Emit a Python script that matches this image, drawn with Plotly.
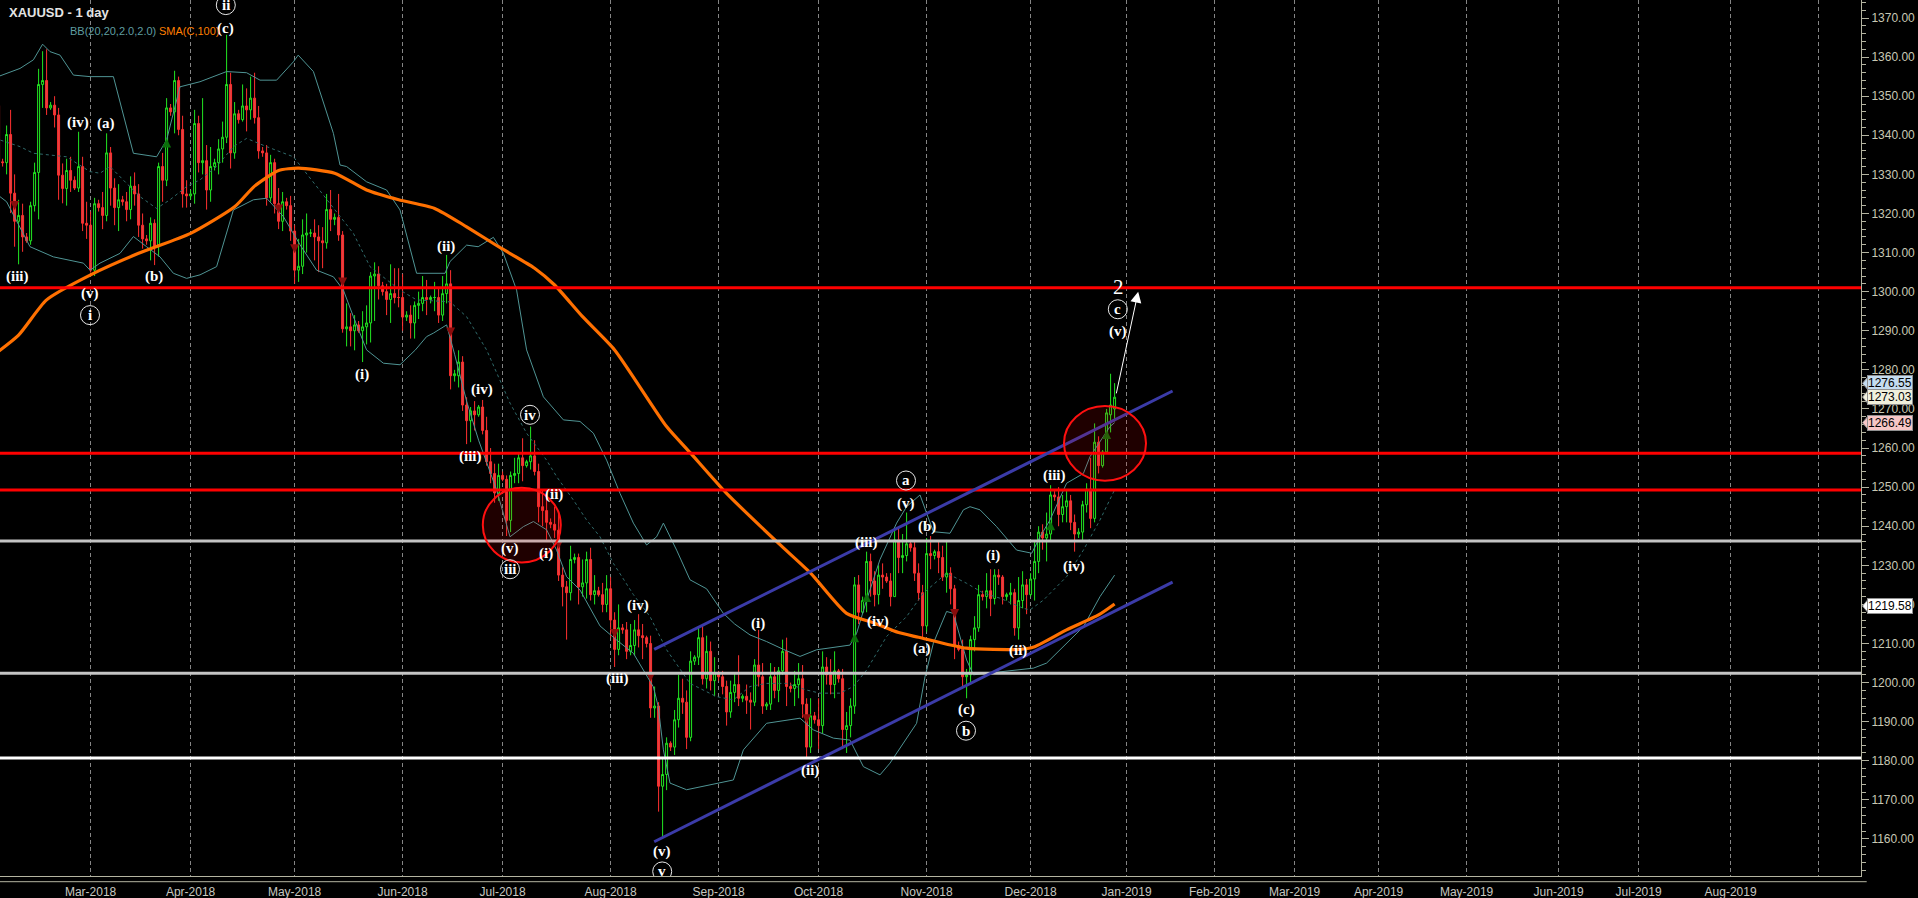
import datetime as dt
import sys
import plotly.graph_objects as go

# ------------------------------------------------------------------
# DATA
# one row per chart bar (o, h, l, c); Sunday bars included
# ------------------------------------------------------------------
FEB_2018 = [
    (1343.0, 1349.5, 1337.5, 1347.6), (1347.6, 1350.0, 1331.5, 1333.2), (1333.2, 1334.0, 1332.0, 1333.0),
    (1333.0, 1342.5, 1330.0, 1340.2), (1340.2, 1346.5, 1320.1, 1325.2), (1325.2, 1330.0, 1311.5, 1318.0),
    (1318.0, 1323.5, 1307.0, 1319.5), (1319.5, 1322.5, 1310.2, 1314.0), (1314.0, 1315.0, 1312.5, 1313.0),
    (1313.0, 1323.0, 1312.0, 1322.0), (1322.0, 1333.0, 1320.5, 1330.5), (1330.5, 1357.0, 1318.5, 1353.0),
    (1353.0, 1361.5, 1347.0, 1354.0), (1354.0, 1362.0, 1345.2, 1347.0), (1347.0, 1348.5, 1346.5, 1347.7),
    (1347.7, 1350.0, 1342.0, 1345.2), (1345.2, 1347.0, 1323.5, 1329.8), (1329.8, 1332.8, 1322.6, 1326.4),
    (1326.4, 1334.0, 1322.0, 1331.0), (1331.0, 1334.5, 1325.5, 1328.5), (1328.5, 1329.5, 1326.0, 1326.5),
    (1326.5, 1340.9, 1325.5, 1332.0), (1332.0, 1334.5, 1315.5, 1317.5), (1317.5, 1323.0, 1313.5, 1317.0),
]
MAR_2018 = [
    (1317.0, 1320.5, 1304.9, 1305.5), (1305.5, 1324.0, 1304.0, 1322.5), (1322.5, 1323.5, 1320.5, 1321.5),
    (1321.5, 1325.5, 1316.0, 1319.5), (1319.5, 1340.5, 1318.0, 1335.5), (1335.5, 1337.0, 1322.0, 1326.5),
    (1326.5, 1329.0, 1317.0, 1321.5), (1321.5, 1327.5, 1315.5, 1323.5), (1323.5, 1324.5, 1322.0, 1323.0),
    (1323.0, 1325.5, 1318.0, 1321.0), (1321.0, 1329.5, 1318.5, 1327.0), (1327.0, 1330.5, 1322.0, 1325.0),
    (1325.0, 1327.5, 1314.0, 1317.0), (1317.0, 1320.0, 1311.0, 1313.5), (1313.5, 1314.5, 1312.0, 1313.0),
    (1313.0, 1319.0, 1308.0, 1317.5), (1317.5, 1318.5, 1306.8, 1311.5), (1311.5, 1333.0, 1309.0, 1332.0),
    (1332.0, 1335.5, 1323.0, 1328.5), (1328.5, 1349.5, 1327.0, 1347.0), (1347.0, 1348.0, 1345.0, 1346.0),
    (1346.0, 1356.5, 1340.5, 1354.0), (1354.0, 1355.0, 1340.0, 1341.5), (1341.5, 1345.0, 1321.5, 1325.0),
    (1325.0, 1328.5, 1321.5, 1324.5),
]
APR_2018 = [
    (1324.5, 1326.0, 1323.5, 1325.0), (1325.0, 1346.5, 1322.5, 1343.0), (1343.0, 1345.0, 1330.5, 1333.0),
    (1333.0, 1349.5, 1330.0, 1333.5), (1333.5, 1337.5, 1321.0, 1326.0), (1326.0, 1337.0, 1323.0, 1332.0),
    (1332.0, 1334.0, 1331.0, 1333.0), (1333.0, 1339.0, 1330.0, 1336.5), (1336.5, 1343.5, 1333.0, 1339.5),
    (1339.5, 1365.7, 1338.0, 1353.0), (1353.0, 1356.0, 1331.5, 1335.5), (1335.5, 1348.5, 1334.0, 1345.5),
    (1345.5, 1346.5, 1343.0, 1344.0), (1344.0, 1353.0, 1343.5, 1347.5), (1347.5, 1352.0, 1341.0, 1346.5),
    (1346.5, 1355.0, 1344.0, 1349.5), (1349.5, 1356.0, 1343.0, 1344.5), (1344.5, 1347.5, 1334.0, 1336.0),
    (1336.0, 1337.0, 1334.5, 1335.5), (1335.5, 1337.5, 1322.0, 1324.0), (1324.0, 1335.0, 1323.0, 1333.0),
    (1333.0, 1334.0, 1320.0, 1322.5), (1322.5, 1326.5, 1316.0, 1318.0), (1318.0, 1325.5, 1315.5, 1323.0),
    (1323.0, 1324.0, 1321.0, 1322.0), (1322.0, 1324.5, 1313.0, 1315.5),
]
MAY_2018 = [
    (1315.5, 1317.0, 1302.0, 1305.5), (1305.5, 1313.5, 1302.5, 1306.5), (1306.5, 1318.5, 1304.5, 1314.5),
    (1314.5, 1320.0, 1310.0, 1315.0), (1315.0, 1316.0, 1314.0, 1315.0), (1315.0, 1318.5, 1308.0, 1314.0),
    (1314.0, 1317.0, 1305.0, 1313.0), (1313.0, 1316.5, 1306.0, 1312.5), (1312.5, 1325.0, 1311.0, 1321.0),
    (1321.0, 1326.0, 1315.5, 1318.5), (1318.5, 1320.0, 1317.0, 1319.0), (1319.0, 1325.0, 1313.0, 1314.5),
    (1314.5, 1315.5, 1289.5, 1290.5), (1290.5, 1297.0, 1286.0, 1291.0), (1291.0, 1294.5, 1286.0, 1290.0),
    (1290.0, 1294.0, 1285.0, 1291.5), (1291.5, 1292.5, 1289.5, 1290.0), (1290.0, 1295.0, 1282.0, 1291.0),
    (1291.0, 1296.5, 1286.5, 1292.0), (1292.0, 1305.0, 1287.0, 1304.0), (1304.0, 1307.5, 1292.5, 1304.5),
    (1304.5, 1306.5, 1298.0, 1301.5), (1301.5, 1302.5, 1299.0, 1300.0), (1300.0, 1302.0, 1294.0, 1298.0),
    (1298.0, 1307.0, 1292.0, 1299.5), (1299.5, 1306.0, 1297.0, 1298.5), (1298.5, 1306.0, 1296.0, 1298.5),
]
JUN_2018 = [
    (1298.5, 1304.5, 1290.0, 1293.5), (1293.5, 1295.0, 1292.5, 1294.0), (1294.0, 1296.5, 1288.0, 1292.0),
    (1292.0, 1297.5, 1288.0, 1296.5), (1296.5, 1300.0, 1293.0, 1297.0), (1297.0, 1304.0, 1295.0, 1298.5),
    (1298.5, 1303.0, 1294.0, 1298.0), (1298.0, 1299.0, 1297.0, 1298.5), (1298.5, 1302.5, 1295.0, 1298.5),
    (1298.5, 1301.0, 1292.0, 1294.0), (1294.0, 1304.0, 1292.5, 1299.5), (1299.5, 1309.4, 1297.0, 1302.0),
    (1302.0, 1305.5, 1275.0, 1278.5), (1278.5, 1280.0, 1277.0, 1279.0), (1278.5, 1285.0, 1275.5, 1282.0),
    (1282.0, 1283.5, 1269.5, 1271.0), (1271.0, 1273.0, 1261.0, 1267.0), (1267.0, 1270.5, 1261.5, 1269.5),
    (1269.5, 1272.0, 1264.5, 1268.5), (1268.5, 1271.0, 1268.0, 1270.5), (1270.5, 1272.3, 1263.5, 1264.5),
    (1264.5, 1268.0, 1255.5, 1256.5), (1256.5, 1260.0, 1251.0, 1253.5), (1253.5, 1256.0, 1246.0, 1248.5),
    (1248.5, 1256.0, 1246.5, 1253.0),
]
JUL_2018 = [
    (1253.0, 1254.0, 1251.5, 1252.0), (1252.0, 1253.0, 1237.5, 1241.5), (1241.5, 1254.0, 1238.5, 1253.0),
    (1253.0, 1257.5, 1251.0, 1253.5), (1253.5, 1259.0, 1251.0, 1257.5), (1257.5, 1262.5, 1251.5, 1255.5),
    (1255.5, 1257.0, 1255.0, 1256.5), (1256.5, 1265.5, 1254.5, 1258.0), (1258.0, 1262.0, 1253.0, 1254.0),
    (1254.0, 1256.0, 1241.0, 1245.0), (1245.0, 1249.5, 1240.0, 1244.0), (1244.0, 1248.0, 1236.5, 1241.0),
    (1241.0, 1242.0, 1239.5, 1240.5), (1240.5, 1245.0, 1237.0, 1239.0), (1239.0, 1244.0, 1226.0, 1227.5),
    (1227.5, 1229.5, 1219.5, 1224.5), (1224.5, 1226.0, 1211.0, 1223.0), (1223.0, 1235.0, 1221.0, 1231.5),
    (1231.5, 1233.0, 1230.5, 1232.0), (1232.0, 1233.0, 1220.0, 1224.5), (1224.5, 1231.5, 1222.0, 1225.5),
    (1225.5, 1233.5, 1221.5, 1231.5), (1231.5, 1234.5, 1221.0, 1222.5), (1222.5, 1227.5, 1220.0, 1223.5),
    (1223.5, 1224.5, 1222.0, 1222.5), (1222.5, 1225.5, 1218.0, 1220.0), (1220.0, 1227.5, 1218.0, 1224.0),
]
AUG_2018 = [
    (1224.0, 1227.0, 1211.5, 1216.0), (1216.0, 1218.0, 1204.0, 1208.5), (1208.5, 1220.0, 1207.0, 1214.0),
    (1214.0, 1215.0, 1212.5, 1213.5), (1213.5, 1215.5, 1206.0, 1208.0), (1208.0, 1215.0, 1207.0, 1209.5),
    (1209.5, 1216.0, 1207.0, 1213.5), (1213.5, 1217.5, 1209.0, 1212.0), (1212.0, 1215.0, 1206.0, 1211.5),
    (1211.5, 1212.0, 1209.0, 1210.0), (1210.0, 1212.0, 1191.0, 1193.5), (1193.5, 1199.0, 1191.0, 1194.0),
    (1194.0, 1195.0, 1167.0, 1173.5), (1173.5, 1181.0, 1160.5, 1176.5), (1176.5, 1186.0, 1172.5, 1184.5),
    (1184.5, 1185.0, 1182.5, 1183.5), (1183.5, 1193.0, 1181.5, 1190.5), (1190.5, 1202.0, 1188.5, 1196.0),
    (1196.0, 1201.0, 1192.0, 1195.0), (1195.0, 1198.0, 1183.0, 1186.0), (1186.0, 1208.0, 1185.0, 1205.5),
    (1205.5, 1207.0, 1204.5, 1206.5), (1206.5, 1214.0, 1204.5, 1211.5), (1211.5, 1214.5, 1199.5, 1201.0),
    (1201.0, 1212.0, 1198.5, 1208.0), (1208.0, 1210.5, 1198.0, 1200.5), (1200.5, 1206.5, 1196.5, 1202.5),
]
SEP_2018 = [
    (1202.5, 1203.0, 1200.5, 1201.5), (1201.5, 1203.0, 1197.0, 1199.0), (1199.0, 1200.5, 1189.0, 1192.5),
    (1192.5, 1200.5, 1191.0, 1197.5), (1197.5, 1202.5, 1195.0, 1199.5), (1199.5, 1207.0, 1194.0, 1196.0),
    (1196.0, 1197.0, 1195.0, 1196.5), (1196.5, 1199.5, 1192.0, 1195.5), (1195.5, 1197.5, 1188.0, 1195.0),
    (1195.0, 1206.0, 1194.0, 1204.5), (1204.5, 1213.5, 1199.0, 1201.5), (1201.5, 1205.0, 1192.0, 1194.0),
    (1194.0, 1195.0, 1193.0, 1194.5), (1194.5, 1205.0, 1193.0, 1201.5), (1201.5, 1204.0, 1196.0, 1198.0),
    (1198.0, 1204.0, 1195.0, 1203.0), (1203.0, 1211.0, 1202.0, 1208.0), (1208.0, 1211.5, 1194.0, 1199.0),
    (1199.0, 1200.0, 1197.5, 1198.5), (1198.5, 1203.0, 1194.0, 1199.5), (1199.5, 1205.0, 1196.0, 1201.0),
    (1201.0, 1204.5, 1191.0, 1194.5), (1194.5, 1196.0, 1180.5, 1183.5), (1183.5, 1196.0, 1182.0, 1191.5),
    (1191.5, 1192.5, 1189.5, 1190.5),
]
OCT_2018 = [
    (1190.5, 1196.0, 1183.0, 1189.0), (1189.0, 1208.0, 1187.0, 1204.0), (1204.0, 1206.5, 1199.5, 1202.0),
    (1202.0, 1206.0, 1197.0, 1199.5), (1199.5, 1208.0, 1196.0, 1203.0), (1203.0, 1203.5, 1200.0, 1201.0),
    (1201.0, 1203.5, 1183.0, 1188.0), (1188.0, 1192.5, 1182.0, 1189.0), (1189.0, 1196.0, 1186.0, 1194.0),
    (1194.0, 1227.0, 1192.0, 1225.0), (1225.0, 1227.5, 1215.0, 1218.0), (1218.0, 1222.0, 1217.5, 1221.0),
    (1221.0, 1233.5, 1218.0, 1231.0), (1231.0, 1233.0, 1222.0, 1226.0), (1226.0, 1228.5, 1219.5, 1222.5),
    (1222.5, 1230.0, 1220.0, 1227.5), (1227.5, 1230.5, 1224.0, 1227.0), (1227.0, 1228.0, 1225.5, 1226.0),
    (1226.0, 1228.0, 1219.5, 1222.0), (1222.0, 1239.0, 1222.0, 1236.5), (1236.5, 1239.5, 1228.0, 1232.0),
    (1232.0, 1238.0, 1228.0, 1232.5), (1232.5, 1243.5, 1231.0, 1235.5), (1235.5, 1236.5, 1233.5, 1234.5),
    (1234.5, 1236.0, 1226.0, 1228.0), (1228.0, 1230.5, 1221.0, 1223.0), (1223.0, 1225.0, 1211.5, 1214.5),
]
NOV_2018 = [
    (1214.5, 1237.0, 1213.0, 1233.0), (1233.0, 1237.5, 1229.0, 1232.5), (1232.5, 1234.0, 1231.5, 1233.5),
    (1233.5, 1236.0, 1228.0, 1232.0), (1232.0, 1235.0, 1226.0, 1227.0), (1227.0, 1236.5, 1223.0, 1228.0),
    (1228.0, 1229.5, 1220.0, 1224.0), (1224.0, 1225.0, 1206.0, 1209.5), (1209.5, 1210.5, 1208.0, 1208.5),
    (1208.5, 1211.0, 1199.0, 1201.5), (1201.5, 1203.5, 1196.0, 1202.0), (1202.0, 1212.0, 1199.5, 1211.0),
    (1211.0, 1217.0, 1208.0, 1214.0), (1214.0, 1225.0, 1213.0, 1222.5), (1222.5, 1223.5, 1221.0, 1222.0),
    (1222.0, 1228.0, 1219.0, 1223.5), (1223.5, 1229.0, 1217.0, 1221.5), (1221.5, 1229.0, 1220.0, 1227.5),
    (1227.5, 1229.0, 1225.0, 1227.0), (1227.0, 1227.5, 1220.0, 1222.0), (1222.0, 1223.0, 1221.0, 1222.5),
    (1222.5, 1225.5, 1220.0, 1223.0), (1223.0, 1224.0, 1212.0, 1214.0), (1214.0, 1227.0, 1211.0, 1221.0),
    (1221.0, 1228.5, 1219.0, 1225.0), (1225.0, 1226.5, 1217.5, 1222.5),
]
DEC_2018 = [
    (1222.5, 1228.0, 1222.0, 1226.5), (1226.5, 1236.0, 1221.0, 1231.0), (1231.0, 1240.0, 1228.0, 1238.5),
    (1238.5, 1240.5, 1234.0, 1237.0), (1237.0, 1243.5, 1231.0, 1238.0), (1238.0, 1250.5, 1236.0, 1248.0),
    (1248.0, 1249.0, 1246.5, 1247.5), (1247.5, 1250.0, 1240.0, 1243.0), (1243.0, 1248.0, 1241.0, 1245.0),
    (1245.0, 1249.0, 1241.0, 1246.5), (1246.5, 1248.0, 1239.0, 1241.0), (1241.0, 1243.0, 1233.5, 1238.0),
    (1238.0, 1239.5, 1237.0, 1238.5), (1238.5, 1246.5, 1236.5, 1245.5), (1245.5, 1251.0, 1243.5, 1249.5),
    (1249.5, 1257.5, 1239.5, 1242.0), (1242.0, 1266.3, 1241.0, 1261.5), (1261.5, 1263.0, 1253.5, 1255.5),
    (1255.5, 1259.5, 1255.0, 1259.0), (1259.0, 1270.0, 1258.5, 1269.0), (1268.5, 1279.0, 1264.0, 1271.0),
    (1270.0, 1276.6, 1266.8, 1273.0),
]

# indicator curves (bar number, price)
SMA_BAR = [0, 6, 13, 24, 36, 49, 60, 65, 71, 76, 85, 93, 101, 110, 118, 126, 135, 140, 147, 155,
           168, 174, 183, 196, 204, 213, 220, 226, 231, 243, 256, 260, 268, 276, 280]
SMA_VAL = [1284.0, 1288.9, 1297.9, 1304.3, 1309.8, 1314.9, 1321.7, 1327.0, 1331.0, 1331.6, 1330.3,
           1326.0, 1323.5, 1321.3, 1316.6, 1311.5, 1306.0, 1301.7, 1293.6, 1285.1, 1265.5, 1258.7,
           1248.4, 1235.6, 1228.0, 1217.7, 1215.2, 1212.8, 1211.6, 1208.8, 1208.5, 1209.2, 1213.5,
           1217.3, 1220.1]

BB_UP_BAR = [0, 1.35, 6.35, 9.7, 12.0, 13.85, 16.35, 19.7, 23.85, 29.7, 34.7, 40.5, 43.0, 46.35, 51.35,
             58.0, 63.0, 66.35, 70.5, 74.7, 75.9, 79.7, 84.7, 86.35, 88.0, 93.0, 98.0, 101.35, 105.5,
             112.6, 113.85, 118.0, 120.9, 124.7, 127.2, 130.5, 133.0, 137.2, 142.2, 146.35, 149.7,
             153.0, 156.35, 159.7, 163.0, 165.5, 167.2, 170.5, 173.85, 178.0, 182.2, 185.0, 188.85,
             193.0, 197.2, 201.35, 205.5, 213.85, 215.5, 218.0, 221.35, 225.5, 228.0, 231.35, 234.7,
             238.85, 242.2, 243.85, 246.35, 250.5, 255.5, 259.3, 261.35, 263.85, 268.0, 272.2, 273.85,
             278.85, 280.0]
BB_UP_VAL = [1355.0, 1355.2, 1357.1, 1359.3, 1363.3, 1361.4, 1360.5, 1355.4, 1355.0, 1355.0, 1335.4,
             1334.5, 1338.8, 1352.4, 1353.7, 1356.3, 1356.0, 1354.1, 1354.1, 1358.8, 1360.5, 1356.3,
             1340.5, 1332.4, 1332.0, 1328.1, 1326.0, 1320.9, 1304.7, 1304.7, 1307.7, 1311.9, 1311.5,
             1313.9, 1309.8, 1300.4, 1285.1, 1273.1, 1267.2, 1266.8, 1263.8, 1256.9, 1248.4, 1240.8,
             1235.2, 1237.3, 1240.8, 1233.9, 1226.3, 1224.0, 1217.7, 1215.0, 1212.2, 1210.5, 1208.5,
             1206.7, 1208.4, 1209.6, 1212.6, 1221.1, 1231.5, 1240.8, 1245.0, 1248.0, 1238.6, 1238.2,
             1244.2, 1245.0, 1244.2, 1239.9, 1233.9, 1233.1, 1237.3, 1241.6, 1251.0, 1253.5, 1257.8,
             1265.5, 1266.5]

BB_MID_BAR = [0, 1.35, 6.35, 9.7, 18.0, 23.85, 26.35, 28.85, 33.0, 36.35, 40.5, 43.85, 48.0, 51.35,
              55.5, 59.7, 63.0, 68.0, 74.7, 80.5, 84.7, 89.7, 93.85, 98.0, 101.35, 105.5, 113.85, 118.0,
              123.0, 128.85, 133.0, 138.0, 140.5, 144.7, 148.0, 151.35, 154.7, 159.7, 163.85, 168.0,
              173.85, 180.5, 184.7, 188.85, 193.0, 198.0, 203.0, 206.35, 211.35, 214.7, 218.0, 223.0,
              228.0, 232.2, 238.0, 243.0, 247.2, 251.35, 257.2, 258.85, 262.2, 268.0, 272.2, 276.35,
              280.0]
BB_MID_VAL = [1339.0, 1338.8, 1337.1, 1335.4, 1334.5, 1330.7, 1330.3, 1332.0, 1327.7, 1324.3, 1321.3,
              1323.5, 1326.9, 1328.6, 1332.0, 1337.1, 1339.2, 1337.1, 1334.5, 1326.9, 1321.7, 1314.9,
              1306.4, 1303.0, 1300.4, 1297.9, 1297.4, 1293.6, 1285.1, 1271.5, 1263.8, 1256.9, 1252.7,
              1246.7, 1241.6, 1237.3, 1230.5, 1222.5, 1216.9, 1208.4, 1199.8, 1196.4, 1195.6, 1199.0,
              1199.8, 1199.8, 1198.1, 1197.3, 1197.3, 1199.0, 1203.2, 1211.8, 1216.9, 1222.9, 1228.0,
              1225.4, 1222.9, 1221.6, 1219.0, 1218.6, 1221.1, 1227.1, 1233.9, 1241.6, 1249.3]

BB_LOW_BAR = [0, 1.35, 3.0, 6.35, 8.85, 14.7, 22.2, 23.85, 26.35, 31.35, 34.7, 38.0, 41.35, 44.7, 48.0,
              51.35, 55.5, 59.7, 64.7, 68.0, 72.2, 76.35, 80.5, 84.7, 87.2, 89.7, 93.0, 97.2, 101.35,
              105.2, 108.0, 109.7, 113.0, 115.0, 118.0, 121.0, 125.5, 128.85, 132.2, 134.7, 138.0,
              140.5, 143.0, 146.35, 151.35, 155.5, 159.7, 164.7, 165.9, 167.2, 168.85, 173.0, 184.7,
              187.2, 193.0, 201.35, 204.7, 209.7, 213.85, 217.2, 221.35, 223.85, 230.5, 232.6, 234.7,
              238.0, 239.7, 243.0, 244.7, 259.7, 263.0, 272.2, 276.35, 280.0]
BB_LOW_VAL = [1325.0, 1324.3, 1323.0, 1316.6, 1311.5, 1308.9, 1307.3, 1305.5, 1307.3, 1309.8, 1314.1,
              1311.5, 1308.9, 1304.7, 1303.4, 1304.3, 1306.4, 1320.9, 1323.5, 1323.9, 1319.2, 1312.0,
              1305.5, 1303.8, 1300.4, 1293.6, 1285.1, 1281.7, 1281.3, 1285.1, 1288.5, 1289.4, 1291.5,
              1284.0, 1272.0, 1262.0, 1249.3, 1237.3, 1239.9, 1241.2, 1239.1, 1233.9, 1227.1, 1223.7,
              1214.5, 1210.9, 1207.5, 1198.9, 1193.9, 1182.8, 1174.3, 1172.6, 1175.1, 1182.8, 1189.6,
              1190.9, 1187.9, 1185.8, 1185.3, 1178.5, 1176.4, 1179.4, 1189.6, 1201.5, 1210.1, 1218.2,
              1217.7, 1205.8, 1202.0, 1203.7, 1205.0, 1214.3, 1222.0, 1227.5]

# signal arrows (bar number, price)
SIG_UP_BAR = [43, 215, 218, 264, 278]
SIG_UP_VAL = [1339.2, 1212.6, 1222.9, 1241.3, 1264.6]
SIG_DN_BAR = [5, 71, 75, 87, 114, 141, 155, 164, 203, 240]
SIG_DN_VAL = [1320.9, 1320.0, 1309.8, 1301.3, 1288.5, 1234.2, 1211.4, 1200.3, 1189.6, 1216.5]

# horizontal levels
LEVEL_PRICES = [1301.0, 1258.7, 1249.3, 1236.2, 1202.4, 1180.7]
LEVEL_KINDS = ["red", "red", "red", "grey", "grey", "white"]

# channel (bar, price) start/end
CHANNEL_UPPER = [(164.9, 1208.5), (294.5, 1274.6)]
CHANNEL_LOWER = [(164.9, 1159.3), (294.5, 1225.7)]

# highlight ellipses: centre bar, centre price, radius in bars, radius in price
HIGHLIGHTS = [(131.8, 1240.3, 9.75, 9.55), (277.6, 1261.2, 10.25, 9.55)]

# projection arrow: tail and head (bar, price)
PROJ_TAIL = (280.35, 1273.6)
PROJ_HEAD = (285.9, 1300.0)

# Elliott wave labels: bar, price, text, circled
WAVE_LABELS = [
    (5.7, 1303.8, "(iii)", False), (20.9, 1343.2, "(iv)", False), (27.85, 1342.9, "(a)", False),
    (23.85, 1299.6, "(v)", False), (23.85, 1294.0, "i", True), (39.85, 1303.8, "(b)", False),
    (57.8, 1367.4, "(c)", False), (57.8, 1373.3, "ii", True), (91.8, 1278.9, "(i)", False),
    (112.8, 1311.5, "(ii)", False), (121.8, 1274.9, "(iv)", False), (133.85, 1268.5, "iv", True),
    (118.85, 1257.8, "(iii)", False), (139.85, 1248.0, "(ii)", False), (128.85, 1234.4, "(v)", False),
    (128.85, 1229.0, "iii", True), (137.8, 1233.1, "(i)", False), (160.9, 1219.6, "(iv)", False),
    (155.7, 1201.1, "(iii)", False), (166.9, 1156.8, "(v)", False), (166.9, 1151.7, "v", True),
    (190.85, 1215.0, "(i)", False), (203.85, 1177.5, "(ii)", False), (217.85, 1235.8, "(iii)", False),
    (220.85, 1215.6, "(iv)", False), (227.85, 1251.7, "a", True), (227.85, 1245.9, "(v)", False),
    (233.0, 1239.9, "(b)", False), (231.8, 1208.8, "(a)", False), (242.85, 1193.2, "(c)", False),
    (242.85, 1187.7, "b", True), (249.7, 1232.4, "(i)", False), (255.8, 1208.1, "(ii)", False),
    (264.85, 1253.1, "(iii)", False), (269.85, 1229.8, "(iv)", False), (280.8, 1295.5, "c", True),
    (280.9, 1289.8, "(v)", False),
]
BIG_LABEL = (280.9, 1301.3, "2")

# price tags on the right scale
TAG_PRICES = [1276.55, 1273.03, 1266.49, 1219.58]
TAG_KINDS = ["blue", "ivory", "pink", "white"]

# calendar
PAST_START = dt.date(2018, 2, 1)
PAST_END = dt.date(2018, 12, 27)
FUTURE_END = dt.date(2019, 9, 30)
HOLIDAYS = {dt.date(2018, 3, 30), dt.date(2018, 12, 25), dt.date(2019, 1, 1)}

# ------------------------------------------------------------------
# STYLE / LAYOUT
# ------------------------------------------------------------------
FIG_W, FIG_H = 1918, 898
M_L, M_R, M_T, M_B = 0, 57, 0, 22
PLOT_W = FIG_W - M_L - M_R
PLOT_H = FIG_H - M_T - M_B
PX_PER_BAR = 4.0
X_LEFT = 1.35
X_RIGHT = X_LEFT + PLOT_W / PX_PER_BAR
PX_PER_PRICE = 3.9095
Y_HI = 1370.0 + 18.0 / PX_PER_PRICE
Y_LO = Y_HI - PLOT_H / PX_PER_PRICE

LEVEL_COLORS = {"red": "#ff0000", "grey": "#c4c4c4", "white": "#ffffff"}
TAG_COLORS = {"blue": "#c4dcf0", "ivory": "#f0f0dc", "pink": "#f6c6c6", "white": "#ffffff"}
AXIS_COL = "#b4b4a0"
TICK_FONT_Y = dict(family="Liberation Sans, Arial, sans-serif", size=12, color="#c8c8b4")
TICK_FONT_X = dict(family="Liberation Sans, Arial, sans-serif", size=12, color="#c8c8c0")
WAVE_FONT = dict(family="Liberation Serif, Times New Roman, serif", size=15, color="#ffffff")


def build_slots():
    slots = []
    d = PAST_START
    while d <= PAST_END:
        if d.weekday() != 5 and d not in HOLIDAYS:
            slots.append(d)
        d += dt.timedelta(days=1)
    n_past = len(slots)
    d = PAST_END + dt.timedelta(days=1)
    while d <= FUTURE_END:
        if d.weekday() < 5 and d not in HOLIDAYS:
            slots.append(d)
        d += dt.timedelta(days=1)
    return slots, n_past


ROWS = (FEB_2018 + MAR_2018 + APR_2018 + MAY_2018 + JUN_2018 + JUL_2018 + AUG_2018 +
        SEP_2018 + OCT_2018 + NOV_2018 + DEC_2018)
slots, n_past = build_slots()
if len(ROWS) != n_past:
    print("row/slot mismatch", len(ROWS), n_past, file=sys.stderr)
n = min(len(ROWS), n_past)
bars = list(range(n))
opens = [r[0] for r in ROWS[:n]]
highs = [r[1] for r in ROWS[:n]]
lows = [r[2] for r in ROWS[:n]]
closes = [r[3] for r in ROWS[:n]]

tickvals, ticktext = [], []
for i in range(1, len(slots)):
    if slots[i].month != slots[i - 1].month:
        tickvals.append(i)
        ticktext.append(slots[i].strftime("%b-%Y") if i < X_RIGHT - 12 else "")

fig = go.Figure()

fig.add_trace(go.Candlestick(
    x=bars, open=opens, high=highs, low=lows, close=closes,
    increasing=dict(line=dict(color="#22e622", width=1), fillcolor="#000000"),
    decreasing=dict(line=dict(color="#ff3030", width=1), fillcolor="#e04545"),
    whiskerwidth=0, hoverinfo="skip", showlegend=False,
))

band_col = "#4f9494"
fig.add_trace(go.Scatter(x=BB_UP_BAR, y=BB_UP_VAL, mode="lines",
                         line=dict(color=band_col, width=1), hoverinfo="skip"))
fig.add_trace(go.Scatter(x=BB_LOW_BAR, y=BB_LOW_VAL, mode="lines",
                         line=dict(color=band_col, width=1), hoverinfo="skip"))
fig.add_trace(go.Scatter(x=BB_MID_BAR, y=BB_MID_VAL, mode="lines",
                         line=dict(color="#2f6a6a", width=1, dash="3px,3px"), hoverinfo="skip"))
fig.add_trace(go.Scatter(x=SMA_BAR, y=SMA_VAL, mode="lines",
                         line=dict(color="#ff7000", width=3.2, shape="spline", smoothing=0.6),
                         hoverinfo="skip"))
fig.add_trace(go.Scatter(x=SIG_UP_BAR, y=SIG_UP_VAL, mode="markers",
                         marker=dict(symbol="arrow-up", size=9, color="#0a6e0a"), hoverinfo="skip"))
fig.add_trace(go.Scatter(x=SIG_DN_BAR, y=SIG_DN_VAL, mode="markers",
                         marker=dict(symbol="arrow-down", size=9, color="#8a0c0c"), hoverinfo="skip"))

shapes = []
for p, k in zip(LEVEL_PRICES, LEVEL_KINDS):
    shapes.append(dict(type="line", xref="paper", yref="y", x0=0, x1=1, y0=p, y1=p,
                       line=dict(color=LEVEL_COLORS[k], width=3)))
for (xa, ya), (xb, yb) in (CHANNEL_UPPER, CHANNEL_LOWER):
    shapes.append(dict(type="line", xref="x", yref="y", x0=xa, y0=ya, x1=xb, y1=yb,
                       line=dict(color="#3b3ba8", width=3)))
for cx, cy, rx, ry in HIGHLIGHTS:
    shapes.append(dict(type="circle", xref="x", yref="y", x0=cx - rx, x1=cx + rx,
                       y0=cy - ry, y1=cy + ry, fillcolor="rgba(255,0,0,0.12)",
                       line=dict(color="#ff1010", width=2)))
for bx, py, txt, circ in WAVE_LABELS:
    if circ:
        shapes.append(dict(type="circle", xref="x", yref="y", xsizemode="pixel", ysizemode="pixel",
                           xanchor=bx, yanchor=py, x0=-9.5, x1=9.5, y0=-9.5, y1=9.5,
                           line=dict(color="#e8e8e8", width=1)))
# price tag pointers
px = 1.0 / PLOT_W
for p, k in zip(TAG_PRICES, TAG_KINDS):
    h = 6.0 / PX_PER_PRICE
    shapes.append(dict(type="path", xref="paper", yref="y",
                       path=f"M {1 + 1.5 * px},{p} L {1 + 6.5 * px},{p + h} L {1 + 6.5 * px},{p - h} Z",
                       fillcolor=TAG_COLORS[k], line=dict(color="#909090", width=1)))
# outer frame line below the axis
shapes.append(dict(type="line", xref="paper", yref="paper", x0=0, x1=1 + 5.7 * px,
                   y0=-5.7 / PLOT_H, y1=-5.7 / PLOT_H, line=dict(color=AXIS_COL, width=1)))

annotations = []
for bx, py, txt, circ in WAVE_LABELS:
    annotations.append(dict(x=bx, y=py, xref="x", yref="y", text=f"<b>{txt}</b>", showarrow=False,
                            font=WAVE_FONT, xanchor="center", yanchor="middle"))
annotations.append(dict(x=BIG_LABEL[0], y=BIG_LABEL[1], xref="x", yref="y", text=BIG_LABEL[2],
                        showarrow=False, xanchor="center", yanchor="middle",
                        font=dict(family="Liberation Serif, serif", size=21, color="#ffffff")))
annotations.append(dict(x=PROJ_HEAD[0], y=PROJ_HEAD[1], ax=PROJ_TAIL[0], ay=PROJ_TAIL[1],
                        xref="x", yref="y", axref="x", ayref="y", text="", showarrow=True,
                        arrowhead=2, arrowsize=2.2, arrowwidth=1, arrowcolor="#ffffff"))
for p, k in zip(TAG_PRICES, TAG_KINDS):
    annotations.append(dict(x=1, xref="paper", y=p, yref="y", xanchor="left", yanchor="middle",
                            xshift=6, text=f"{p:.2f}", showarrow=False, bgcolor=TAG_COLORS[k],
                            bordercolor="#909090", borderwidth=1, borderpad=0,
                            font=dict(family="Liberation Sans, Arial, sans-serif", size=12,
                                      color="#000000")))
annotations.append(dict(x=7 / PLOT_W, y=1 - 12 / PLOT_H, xref="paper", yref="paper",
                        xanchor="left", yanchor="middle", showarrow=False,
                        text="<b>XAUUSD - 1 day</b>",
                        font=dict(family="Liberation Sans, Arial, sans-serif", size=13,
                                  color="#e4e4e4")))
annotations.append(dict(x=68 / PLOT_W, y=1 - 30.5 / PLOT_H, xref="paper", yref="paper",
                        xanchor="left", yanchor="middle", showarrow=False,
                        text="BB(20,20,2.0,2.0)",
                        font=dict(family="Liberation Sans, Arial, sans-serif", size=11,
                                  color="#5f9ea0")))
annotations.append(dict(x=157 / PLOT_W, y=1 - 30.5 / PLOT_H, xref="paper", yref="paper",
                        xanchor="left", yanchor="middle", showarrow=False,
                        text="SMA(C,100)",
                        font=dict(family="Liberation Sans, Arial, sans-serif", size=11,
                                  color="#ff7f00")))

fig.update_layout(
    width=FIG_W, height=FIG_H,
    margin=dict(l=M_L, r=M_R, t=M_T, b=M_B, pad=0),
    paper_bgcolor="#000000", plot_bgcolor="#000000",
    showlegend=False, hovermode=False,
    shapes=shapes, annotations=annotations,
    xaxis=dict(range=[X_LEFT, X_RIGHT], tickmode="array", tickvals=tickvals, ticktext=ticktext,
               showgrid=True, gridcolor="#858585", griddash="4px,3px", gridwidth=1,
               zeroline=False, showline=True, linecolor=AXIS_COL, linewidth=1,
               ticks="outside", ticklen=5, tickcolor="rgba(0,0,0,0)", tickfont=TICK_FONT_X,
               rangeslider=dict(visible=False), fixedrange=True, automargin=False),
    yaxis=dict(range=[Y_LO, Y_HI], side="right", tick0=0, dtick=10, tickformat=".2f",
               showgrid=False, zeroline=False, showline=True, linecolor=AXIS_COL, linewidth=1,
               ticks="outside", ticklen=7, tickcolor=AXIS_COL, tickfont=TICK_FONT_Y,
               minor=dict(dtick=2, ticks="outside", ticklen=4, tickcolor=AXIS_COL),
               fixedrange=True, automargin=False),
)

fig.write_html(
    "out.html",
    config={"displayModeBar": False},
    post_script="document.body.style.margin='0';document.body.style.padding='0';"
                "document.body.style.overflow='hidden';document.body.style.background='#000';",
)
